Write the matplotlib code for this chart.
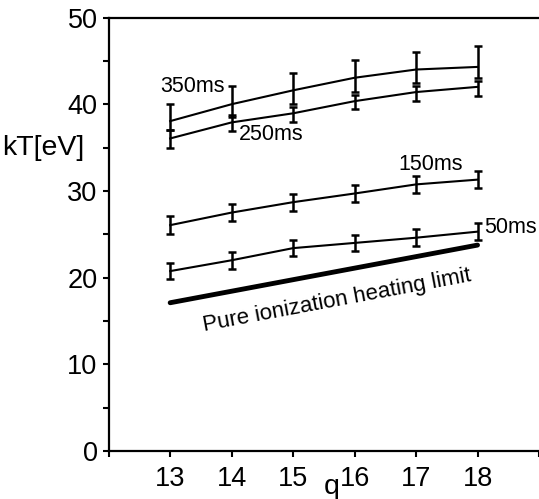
import numpy as np
import matplotlib
matplotlib.use("Agg")
import matplotlib.pyplot as plt

plt.rcParams['font.family'] = ['Liberation Sans', 'DejaVu Sans']

q = [13, 14, 15, 16, 17, 18]
kT_350 = [38.05, 40.0, 41.6, 43.05, 44.0, 44.3]
hi_350 = [40.0, 42.1, 43.6, 45.05, 46.0, 46.7]
lo_350 = [37.0, 38.5, 40.0, 41.35, 42.4, 43.05]
kT_250 = [36.05, 37.9, 38.95, 40.35, 41.4, 42.0]
hi_250 = [37.0, 38.75, 39.7, 41.05, 42.1, 42.7]
lo_250 = [35.0, 36.9, 38.0, 39.4, 40.4, 41.0]
kT_150 = [26.05, 27.5, 28.7, 29.7, 30.75, 31.3]
err_150 = [1.0, 0.95, 0.98, 0.96, 0.96, 0.96]
kT_50 = [20.75, 22.0, 23.4, 24.0, 24.6, 25.3]
err_50 = [0.96, 0.96, 0.96, 0.96, 0.96, 1.0]
q_lim = [13, 18]
kT_lim = [17.1, 23.75]

labels = ["350ms", "250ms", "150ms", "50ms"]
label_pos = [(13.37, 42.0), (14.64, 36.45), (17.24, 33.1), (18.54, 25.8)]
x_ticks = [12, 13, 14, 15, 16, 17, 18, 19]
x_ticklabels = ["", "13", "14", "15", "16", "17", "18", ""]

W, H = 539, 499
fig = plt.figure(figsize=(W / 100, H / 100), dpi=100)
ax = fig.add_axes([108.7 / W, (H - 451) / H, (W - 108.7) / W, (451 - 17.5) / H])

def eb(y, lo, hi):
    y = np.array(y); lo = np.array(lo); hi = np.array(hi)
    ax.errorbar(q, y, yerr=[y - lo, hi - y], color='black', lw=1.5,
                elinewidth=1.8, capsize=3.2, capthick=1.8)

eb(kT_350, lo_350, hi_350)
eb(kT_250, lo_250, hi_250)
k150 = np.array(kT_150); e150 = np.array(err_150)
eb(kT_150, k150 - e150, k150 + e150)
k50 = np.array(kT_50); e50 = np.array(err_50)
eb(kT_50, k50 - e50, k50 + e50)

ax.plot(q_lim, kT_lim, color='black', lw=3.5, solid_capstyle='round')

for t, (x, y) in zip(labels, label_pos):
    ax.text(x, y, t, fontsize=15.5, ha='center', va='center')

ax.text(15.72, 17.3, "Pure ionization heating limit", fontsize=16,
        rotation=10.6, ha='center', va='center', rotation_mode='anchor')

ax.set_xlim(12, 19)
ax.set_ylim(0, 50)
ax.set_xticks(x_ticks)
ax.set_xticklabels(x_ticklabels)
ax.set_yticks([0, 10, 20, 30, 40, 50])
ax.set_yticks([5, 15, 25, 35, 45], minor=True)
ax.tick_params(axis='both', which='major', labelsize=19.5, width=1.5,
               length=4, direction='out')
ax.tick_params(axis='x', pad=7)
ax.tick_params(axis='y', pad=4)
ax.tick_params(axis='y', which='minor', width=1.5, length=4, direction='out')
for s in ['left', 'bottom', 'top']:
    ax.spines[s].set_linewidth(1.6)
ax.spines['right'].set_visible(False)

fig.text(43 / W, 1 - 148 / H, "kT[eV]", fontsize=20.5, ha='center', va='center')
fig.text(331.7 / W, 1 - 487 / H, "q", fontsize=20.5, ha='center', va='center')

fig.savefig("out.png", dpi=100)
